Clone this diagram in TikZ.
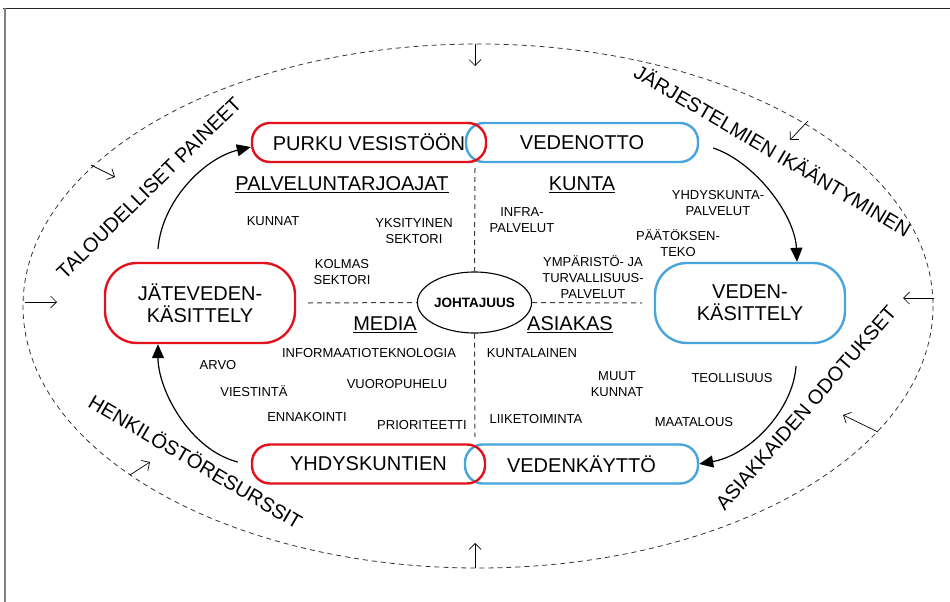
\documentclass[tikz,border=0pt]{standalone}
\usepackage{fontspec}
\setmainfont{Liberation Sans}
\usetikzlibrary{arrows.meta,shapes.geometric,calc}
\definecolor{boxred}{RGB}{226,18,28}
\definecolor{boxblue}{RGB}{72,164,220}
\definecolor{dashgray}{RGB}{60,60,60}
\definecolor{framegray}{RGB}{128,128,128}

\begin{document}
\begin{tikzpicture}[x=1pt,y=-1pt,
  pill/.style={draw, line width=2.4pt, rounded corners=18pt, minimum height=39pt,
    inner sep=0pt, font=\fontsize{20}{22}\selectfont},
  bigpill/.style={draw, line width=2.4pt, rounded corners=32pt, minimum width=190pt,
    minimum height=80pt, inner sep=0pt, align=center, font=\fontsize{20}{22}\selectfont},
  lbl/.style={inner sep=0pt, align=center, font=\fontsize{13}{16}\selectfont},
  heading/.style={inner sep=0pt, font=\fontsize{20}{24}\selectfont},
  rim/.style={inner sep=0pt, font=\fontsize{20}{24}\selectfont},
  flow/.style={line width=1.2pt, -{Triangle[length=14pt,width=12pt]}},
  push/.style={line width=0.7pt, -{Straight Barb[length=6pt,width=12pt]}},
  divider/.style={dashgray, line width=1pt, dash pattern=on 5pt off 4pt},
]
\useasboundingbox (0,0) rectangle (950,602);

% frame edges
\draw[black!85, line width=1.4pt] (3,8.5) -- (950,8.5);
\draw[framegray, line width=1.8pt] (4.7,8) -- (4.7,602);

% outer dashed boundary
\draw[black!80, line width=0.8pt, dash pattern=on 5pt off 4pt] (478,306) ellipse [x radius=455, y radius=262];

% pressure arrows from the boundary
\coordinate (pTopA) at (475,44);   \coordinate (pTopB) at (475,66);
\coordinate (pBotA) at (475,568);  \coordinate (pBotB) at (475,543);
\coordinate (pLftA) at (25,302);   \coordinate (pLftB) at (57,302);
\coordinate (pRgtA) at (934,298);  \coordinate (pRgtB) at (903,298);
\coordinate (pTLA) at (91,165);    \coordinate (pTLB) at (115,177);
\coordinate (pTRA) at (808,121);   \coordinate (pTRB) at (790,140);
\coordinate (pBLA) at (130,475);   \coordinate (pBLB) at (150,462);
\coordinate (pBRA) at (878,432);   \coordinate (pBRB) at (843,415);
\foreach \p in {Top,Bot,Lft,Rgt,TL,TR,BL,BR}
  \draw[push] (p\p A) -- (p\p B);

% labels along the boundary
\node[rim, rotate=44.5] (talous) at (149,188) {TALOUDELLISET PAINEET};
\node[rim, rotate=-30.5] (jarj) at (773,150) {JÄRJESTELMIEN IKÄÄNTYMINEN};
\node[rim, rotate=-30.5] (henk) at (196,461) {HENKILÖSTÖRESURSSIT};
\node[rim, rotate=49] (asiak) at (806,408) {ASIAKKAIDEN ODOTUKSET};

% process boxes
\node[pill, draw=boxblue, minimum width=232pt] (otto) at (582,142.5) {VEDENOTTO};
\node[pill, draw=boxred, minimum width=234pt] (purku) at (369,142.5) {PURKU VESISTÖÖN};
\node[pill, draw=boxblue, minimum width=233pt] (kaytto) at (581.5,464) {VEDENKÄYTTÖ};
\node[pill, draw=boxred, minimum width=233pt] (yhd) at (368.5,464) {YHDYSKUNTIEN};
\node[bigpill, draw=boxred] (jat) at (200,303) {JÄTEVEDEN-\\KÄSITTELY};
\node[bigpill, draw=boxblue] (vk) at (750,303) {VEDEN-\\KÄSITTELY};

% leadership hub and quadrant dividers
\node[draw, ellipse, line width=1.1pt, minimum width=89pt, minimum height=61pt, inner sep=0pt,
  font=\fontsize{13.5}{16}\selectfont\bfseries] (hub) at (474.5,302.5) {JOHTAJUUS};
\coordinate (dTop) at (475,168);
\coordinate (dBot) at (475,437);
\coordinate (dLft) at (308,303);
\coordinate (dRgt) at (642,303);
\draw[divider] (dTop) -- (hub.north);
\draw[divider] (hub.south) -- (dBot);
\draw[divider] (dLft) -- (hub.west);
\draw[divider] (hub.east) -- (dRgt);

% water cycle arrows
\draw[flow] ([xshift=-42pt,yshift=13pt]jat.north) .. controls (162,200) and (205,158) .. ([yshift=-4.5pt]purku.west);
\draw[flow] ([xshift=14pt,yshift=-5.5pt]otto.east) .. controls (755,162) and (795,215) .. ([xshift=47pt]vk.north);
\draw[flow] ([xshift=46pt,yshift=-22pt]vk.south) .. controls (793,410) and (750,455) .. (kaytto.east);
\draw[flow] ([xshift=-13pt,yshift=2pt]yhd.west) .. controls (190,450) and (158,390) .. ([xshift=-42pt]jat.south);

% quadrant headings
\node[heading] (hPal) at (342,185) {\underline{PALVELUNTARJOAJAT}};
\node[heading] (hKun) at (582,185) {\underline{KUNTA}};
\node[heading] (hMed) at (385,325) {\underline{MEDIA}};
\node[heading] (hAsi) at (570,325) {\underline{ASIAKAS}};

% service providers
\node[lbl] (kunnat) at (273,221) {KUNNAT};
\node[lbl] (yksit) at (414,231) {YKSITYINEN\\SEKTORI};
\node[lbl] (kolmas) at (342,272) {KOLMAS\\SEKTORI};

% municipality
\node[lbl] (infra) at (522,220) {INFRA-\\PALVELUT};
\node[lbl] (yhdp) at (718,203) {YHDYSKUNTA-\\PALVELUT};
\node[lbl] (paat) at (678,243) {PÄÄTÖKSEN-\\TEKO};
\node[lbl] (ymp) at (593,277) {YMPÄRISTÖ- JA\\TURVALLISUUS-\\PALVELUT};

% media
\node[lbl] (info) at (369,353) {INFORMAATIOTEKNOLOGIA};
\node[lbl] (arvo) at (218,365) {ARVO};
\node[lbl] (viest) at (254,391) {VIESTINTÄ};
\node[lbl] (vuoro) at (397,384) {VUOROPUHELU};
\node[lbl] (ennak) at (307,417) {ENNAKOINTI};
\node[lbl] (prio) at (422,425) {PRIORITEETTI};

% customer
\node[lbl] (kuntal) at (532,353) {KUNTALAINEN};
\node[lbl] (muut) at (617,384) {MUUT\\KUNNAT};
\node[lbl] (teoll) at (732,378) {TEOLLISUUS};
\node[lbl] (liike) at (536,419) {LIIKETOIMINTA};
\node[lbl] (maat) at (694,422) {MAATALOUS};

\end{tikzpicture}
\end{document}
